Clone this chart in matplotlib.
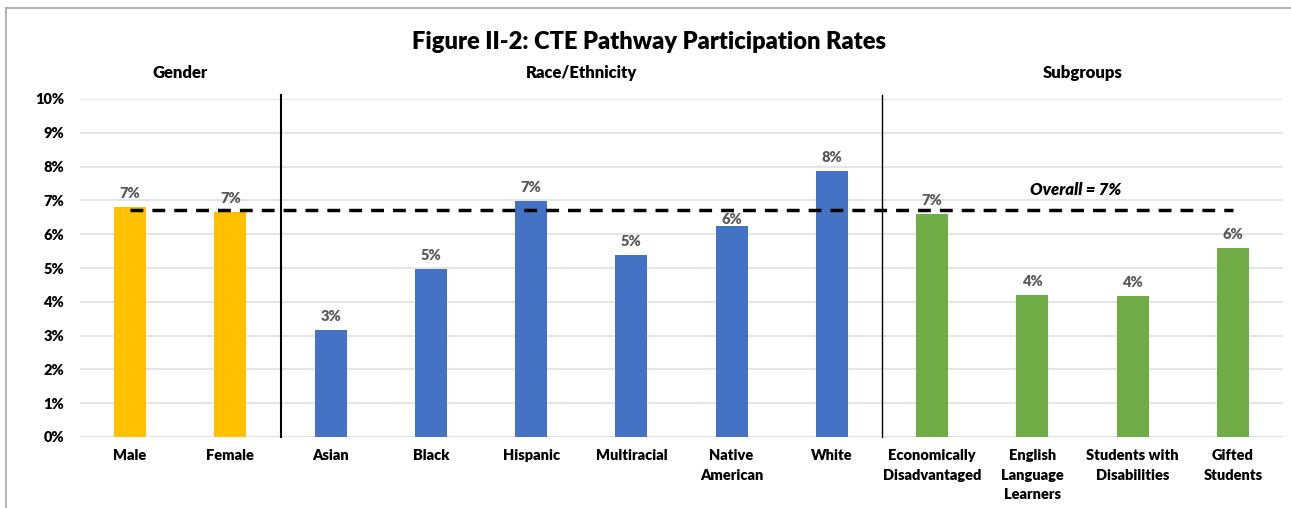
import matplotlib
matplotlib.use('Agg')
import matplotlib.pyplot as plt
from matplotlib.lines import Line2D
from matplotlib.ticker import PercentFormatter

plt.rcParams['font.family'] = ['Lato', 'DejaVu Sans']

categories = ["Male", "Female", "Asian", "Black", "Hispanic", "Multiracial",
              "Native\nAmerican", "White", "Economically\nDisadvantaged",
              "English\nLanguage\nLearners", "Students with\nDisabilities",
              "Gifted\nStudents"]
rates = [6.81, 6.66, 3.17, 4.97, 6.98, 5.38, 6.24, 7.87, 6.60, 4.20, 4.17, 5.59]
groups = ["Gender", "Gender", "Race", "Race", "Race", "Race", "Race", "Race",
          "Sub", "Sub", "Sub", "Sub"]
group_titles = {"Gender": "Gender", "Race": "Race/Ethnicity", "Sub": "Subgroups"}
group_colors = {"Gender": "#FFC000", "Race": "#4472C4", "Sub": "#70AD47"}
overall = 6.72

fig = plt.figure(figsize=(12.91, 5.08), dpi=100)
ax = fig.add_axes([80 / 1291, 71 / 508, 1203 / 1291, 338 / 508])

x = list(range(len(categories)))
colors = [group_colors[g] for g in groups]
bars = ax.bar(x, rates, width=0.32, color=colors, zorder=2)

for xi, v in zip(x, rates):
    # the Native American label sits tight on its bar, under the dashed line
    off = 0 if xi == 6 else 5
    ax.annotate("{:.0f}%".format(round(v)), (xi, v), xytext=(0, off),
                textcoords="offset points", ha="center", va="bottom",
                fontsize=10.5, fontweight="heavy", color="#595959")

# overall dashed line
ax.plot([0, len(categories) - 1], [overall, overall], color="black", lw=2.5,
        linestyle=(0, (3.7, 2.6)), zorder=3)
ax.text(9.43, 7.3, "Overall = 7%", ha="center", va="center", fontsize=12,
        fontweight="heavy", fontstyle="italic")

# group separators and headings
names = list(dict.fromkeys(groups))
for i in range(len(groups) - 1):
    if groups[i] != groups[i + 1]:
        lw = 1.5 if i == 1 else 1.0
        ax.plot([i + 0.5, i + 0.5], [0, 10.12], color="black", lw=lw,
                clip_on=False, zorder=3)
for g in names:
    idx = [i for i, gg in enumerate(groups) if gg == g]
    ax.text((idx[0] + idx[-1]) / 2, 10.77, group_titles[g], ha="center",
            va="center", fontsize=12, fontweight="heavy")

ax.set_xlim(-0.5, len(categories) - 0.5)
ax.set_ylim(0, 10)
ax.set_yticks(range(0, 11))
ax.yaxis.set_major_formatter(PercentFormatter(decimals=0))
ax.set_xticks(x)
ax.set_xticklabels(categories, linespacing=1.55)
for lab in ax.get_xticklabels() + ax.get_yticklabels():
    lab.set_fontweight("heavy")
    lab.set_fontsize(10.5)
ax.tick_params(axis="both", length=0)
ax.tick_params(axis="x", pad=9)
ax.tick_params(axis="y", pad=11.5)
ax.grid(axis="y", color="#E0E0E0", lw=1.2, zorder=0)
for s in ax.spines.values():
    s.set_visible(False)
ax.axhline(0, color="#D9D9D9", lw=1.2, zorder=1)

fig.text(649 / 1291, 1 - 42 / 508, "Figure II-2: CTE Pathway Participation Rates",
         ha="center", va="center", fontsize=17, fontweight="heavy")

# chart border
fig.add_artist(Line2D([6 / 1291, 1], [1 - 8 / 508, 1 - 8 / 508], color="#A6A6A6", lw=1.2))
fig.add_artist(Line2D([6 / 1291, 6 / 1291], [0, 1 - 8 / 508], color="#A6A6A6", lw=1.2))

fig.savefig("out.png", dpi=100)
